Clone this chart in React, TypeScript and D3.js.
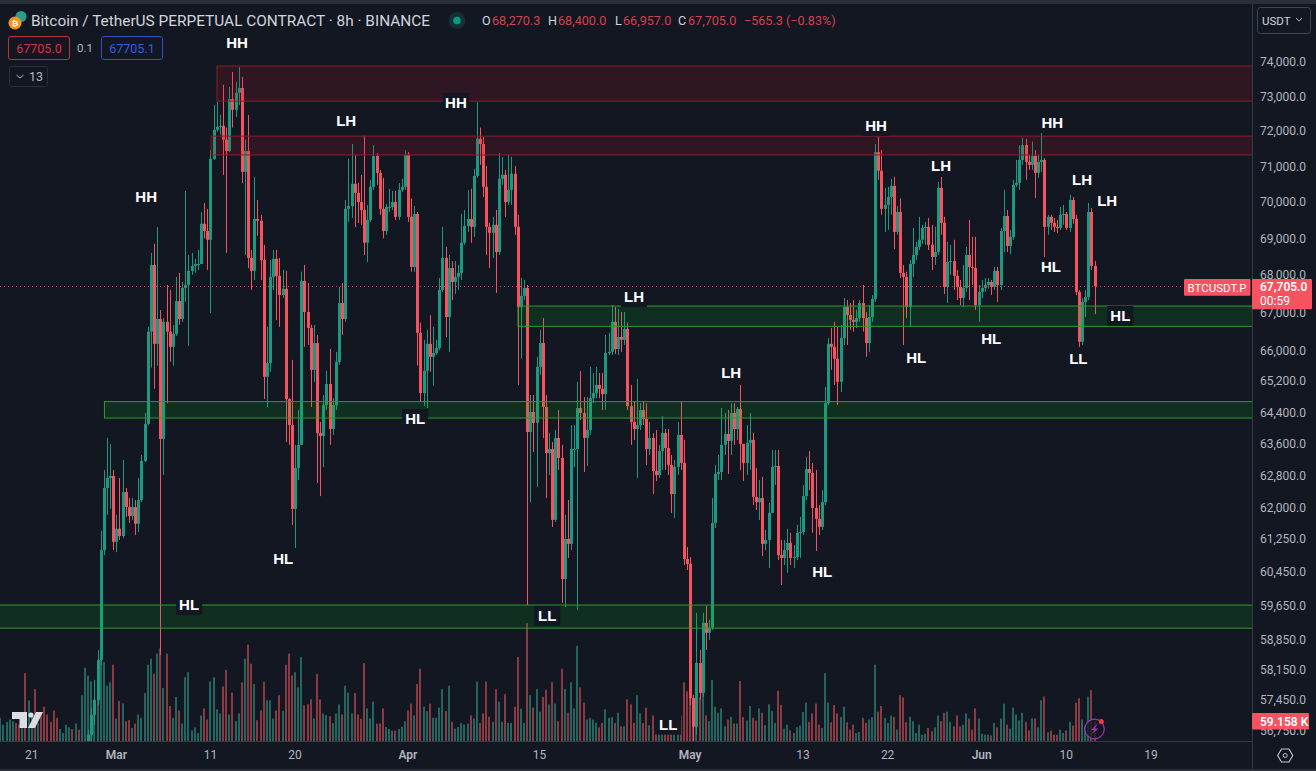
import React, { useEffect, useRef } from 'react';
import * as d3 from 'd3';

const width = 1316;
const height = 771;
const plotRight = 1252.5;
const plotBottom = 741.5;
const topStrip = 4;

// 8h candles, the first one opens at firstOpen and every next one opens at the last close
const firstOpen = 56520;
const closes = [
  56660, 57110, 57450, 58370, 60970, 62490, 62740, 62790, 61170, 61490, 61310, 62390, 62020, 61800, 62020, 61610,
  62194, 63165, 64100, 66490, 68275, 66170, 66825, 63720, 66750, 66490, 66090, 66430, 67300, 66825, 67655, 67735,
  68115, 68250, 68300, 68300, 69400, 69200, 68960, 71210, 72035, 72120, 72150, 71755, 71430, 72920, 72610, 73100,
  73240, 70845, 71430, 68465, 68115, 69530, 69480, 68410, 65310, 65670, 67950, 68440, 67980, 67465, 67630, 64735,
  64070, 61975, 62990, 63570, 67845, 67010, 66590, 65490, 66190, 63870, 63795, 64580, 65125, 63970, 64580, 65700,
  67250, 66825, 69810, 69890, 70510, 70255, 70000, 69780, 68880, 69505, 70425, 71290, 70815, 69810, 69200, 69865,
  69865, 70000, 69590, 70340, 70425, 71320, 69590, 68220, 69670, 66460, 64890, 65465, 66170, 65830, 65930, 66060,
  67600, 68465, 66880, 68190, 67815, 67950, 68060, 68880, 69340, 69530, 69315, 70730, 71780, 71630, 70425, 69315,
  69150, 69370, 68625, 70650, 70760, 70000, 70340, 70790, 69315, 67140, 67440, 67655, 63895, 64405, 64125, 65570,
  66190, 64530, 63365, 63465, 61705, 63745, 63240, 60275, 61240, 61120, 63465, 63465, 64505, 64380, 63745, 63945,
  64760, 64890, 65100, 65000, 64865, 65930, 65960, 66750, 66035, 66350, 66275, 66565, 64555, 64150, 63970, 64070,
  64455, 64225, 63465, 63745, 62915, 62815, 63415, 63870, 63490, 63065, 62340, 63015, 63820, 63115, 60755, 60635,
  57495, 56840, 58300, 57610, 59235, 59000, 59120, 61630, 62840, 62890, 63570, 63845, 63670, 64380, 63970, 64480,
  63595, 63115, 63620, 63695, 62270, 62140, 62240, 61120, 61215, 61875, 63015, 63040, 60850, 60780, 60970, 61145,
  60780, 60800, 61390, 61410, 62290, 62965, 62865, 62000, 61730, 61535, 62140, 64630, 66170, 66090, 65780, 65180,
  66325, 67145, 66930, 66800, 66750, 66850, 67250, 66850, 66190, 66880, 67360, 71400, 70875, 69810, 69920, 70140,
  70450, 69175, 69725, 68060, 67950, 67145, 68300, 68545, 68765, 68960, 69285, 69315, 68820, 68490, 68625, 70395,
  69425, 67680, 68355, 68380, 67980, 67680, 67385, 67655, 68545, 68220, 68190, 67195, 67550, 67655, 67735, 67815,
  67680, 68115, 67735, 69200, 69615, 68790, 69040, 70480, 70535, 71180, 71600, 71125, 71040, 71290, 70815, 71125,
  71180, 69315, 69590, 69425, 69315, 69285, 69645, 69670, 69285, 70057, 69530, 67550, 66225, 67280, 67410, 69725,
  68250, 67705,
];
const highs = [
  56770, 57270, 57910, 58600, 61440, 62940, 63750, 63590, 62940, 61830, 62740, 63190, 62490, 62240, 62240, 62194,
  62740, 63315, 64380, 66620, 68600, 68850, 69310, 67065, 66850, 67735, 67600, 66670, 67950, 68060, 67815, 70310,
  68545, 68600, 68440, 68680, 69725, 69975, 69810, 71460, 72750, 72835, 72465, 73330, 72100, 73270, 73710, 73420,
  73850, 73560, 71755, 72465, 68680, 70700, 70057, 69645, 68820, 66620, 68410, 68680, 68680, 68465, 68140, 68115,
  64760, 65750, 63570, 64455, 68090, 68275, 67790, 66670, 66670, 66405, 64150, 64840, 65465, 66035, 64760, 65960,
  67680, 67790, 70057, 71210, 71630, 71320, 70530, 70760, 71870, 69920, 70620, 71600, 71375, 70900, 70675, 69950,
  70370, 70310, 70310, 70530, 70650, 71460, 71400, 70100, 69890, 69725, 66730, 66275, 66540, 66930, 66620, 66275,
  67920, 69315, 68765, 68545, 68380, 68380, 68275, 69675, 69780, 70340, 70370, 70930, 72835, 72100, 71840, 71010,
  69425, 69590, 69780, 71375, 71265, 70900, 71320, 71265, 71010, 69645, 67920, 67870, 67735, 64840, 64840, 65830,
  66540, 66850, 64840, 63870, 63645, 63945, 64455, 63570, 61830, 62194, 64070, 64070, 65180, 65465, 64785, 64785,
  65570, 65410, 65570, 65410, 65410, 66405, 66460, 67195, 67145, 67090, 67010, 67010, 66730, 65100, 64660, 65255,
  64630, 64660, 64630, 64150, 63870, 63945, 63570, 64300, 63970, 63970, 63315, 63190, 64150, 64660, 63695, 61045,
  60800, 57565, 59470, 58600, 59470, 59630, 59305, 62240, 63065, 63315, 64505, 64380, 64455, 64630, 64630, 64530,
  65100, 63570, 64070, 64380, 63870, 62990, 62690, 62765, 61460, 62120, 63440, 63440, 63440, 61215, 61215, 61485,
  61390, 61095, 61585, 61780, 62565, 63265, 63415, 63115, 62940, 62070, 62440, 65050, 66325, 66590, 66750, 66620,
  66670, 67385, 67330, 67250, 67330, 67065, 67330, 67735, 67010, 67195, 67465, 71630, 71840, 71460, 70395, 70425,
  70650, 70705, 69890, 70100, 68275, 68090, 68410, 69285, 68905, 69590, 69370, 69450, 69560, 69370, 69315, 70565,
  70700, 69590, 68905, 68820, 68960, 68140, 67870, 68275, 68765, 69505, 69040, 69040, 67735, 67870, 67920, 67920,
  67870, 68220, 68220, 69285, 70340, 69780, 69230, 70620, 71180, 71600, 71810, 71780, 71320, 71700, 71460, 71320,
  71950, 71235, 69645, 69645, 69560, 69505, 69865, 69920, 69725, 70200, 70140, 69645, 67600, 67385, 67600, 69975,
  69835, 68380,
];
const lows = [
  56500, 56520, 56880, 57330, 58250, 60850, 61830, 61980, 60970, 60920, 61215, 61260, 61780, 61630, 61705, 61340,
  61410, 62140, 63140, 64070, 65550, 65000, 65600, 58480, 62815, 64630, 65700, 65600, 66380, 66670, 66750, 67280,
  66115, 68005, 68060, 68140, 68300, 69000, 68140, 66985, 71180, 71980, 71895, 70760, 68600, 71400, 72100, 72400,
  72750, 70530, 68545, 68190, 67600, 67870, 69070, 67870, 64735, 64530, 65440, 67600, 66800, 66620, 67385, 63640,
  63570, 61580, 61020, 62690, 63570, 66090, 66140, 64530, 65180, 62615, 62290, 63010, 64455, 63570, 63820, 64455,
  65620, 66405, 66750, 69450, 69560, 69310, 69420, 69370, 68545, 68350, 69450, 70340, 70480, 69645, 69000, 69095,
  69725, 69780, 69505, 69505, 70285, 70340, 69450, 68090, 68090, 65600, 64660, 64560, 64505, 65440, 65075, 65880,
  66008, 67550, 66350, 65960, 67330, 67490, 67600, 67870, 68820, 69175, 68880, 69040, 70675, 71040, 70140, 68545,
  68190, 68465, 67520, 68545, 70480, 69590, 69920, 69920, 69095, 65100, 65780, 67330, 59655, 62140, 63390, 62515,
  65360, 63745, 62240, 62815, 61535, 61655, 62940, 59705, 59610, 60780, 60970, 63010, 59540, 64200, 62890, 63040,
  63820, 64630, 64760, 64760, 64455, 64455, 65880, 65880, 65905, 65880, 65960, 66140, 64455, 63570, 63695, 62740,
  63945, 64070, 63065, 63315, 62340, 62665, 62740, 62940, 62940, 62815, 61875, 61755, 62815, 62940, 60610, 60490,
  57335, 56500, 56660, 57450, 57520, 58600, 58835, 59070, 61510, 62690, 62690, 63315, 62840, 63315, 63570, 63695,
  62940, 62665, 62815, 62940, 62070, 61950, 61705, 60825, 60970, 60540, 62070, 62565, 60730, 60130, 60610, 60420,
  60610, 60540, 60730, 60780, 61340, 62194, 62440, 61390, 60950, 61340, 61460, 62070, 64580, 65490, 65100, 64580,
  64920, 66140, 66140, 66540, 66490, 66590, 66750, 66490, 65830, 65960, 66750, 67280, 70620, 69645, 69175, 69230,
  69645, 68710, 69095, 67920, 66140, 66850, 66620, 67950, 68410, 68680, 68850, 68820, 68680, 68140, 68275, 68545,
  69095, 67490, 67250, 68005, 67600, 67330, 67195, 67145, 67550, 67330, 67735, 67065, 66750, 67385, 67550, 67630,
  67465, 67600, 67280, 67600, 68625, 68625, 68570, 68960, 70425, 70340, 71040, 70620, 70900, 70900, 70115, 70675,
  70845, 68465, 69095, 69230, 69175, 69150, 69230, 69370, 69230, 69175, 69400, 67465, 66090, 66140, 66880, 67330,
  68140, 66957,
];

// volume in thousands, the last 322 belong to the candles above
const volumes = [
  70, 50, 58, 65, 60, 55, 50, 45, 202, 122, 75, 155, 55, 85, 103, 80, 58, 92, 70, 37, 25, 50, 42, 37, 53, 35, 137, 218,
  195, 178, 125, 235, 255, 235, 165, 175, 227, 68, 120, 113, 60, 63, 40, 53, 80, 70, 143, 227, 245, 200, 260, 275, 158,
  260, 105, 70, 132, 92, 53, 190, 205, 33, 42, 25, 77, 98, 65, 178, 190, 95, 83, 163, 212, 80, 145, 60, 83, 175, 245,
  287, 230, 170, 63, 92, 177, 122, 122, 68, 92, 137, 90, 227, 260, 195, 205, 160, 250, 107, 110, 125, 68, 200, 125, 83,
  78, 75, 55, 83, 110, 80, 165, 145, 83, 143, 80, 67, 232, 98, 68, 118, 53, 53, 98, 43, 37, 32, 32, 37, 43, 60, 92, 112,
  77, 170, 215, 103, 90, 112, 70, 70, 100, 155, 90, 165, 58, 38, 43, 55, 50, 53, 77, 68, 177, 55, 83, 177, 73, 58, 155,
  118, 58, 140, 55, 55, 103, 250, 97, 55, 350, 137, 100, 155, 88, 132, 153, 110, 175, 112, 60, 215, 155, 85, 175, 98,
  283, 160, 115, 65, 70, 65, 55, 42, 55, 95, 70, 72, 55, 85, 45, 45, 125, 110, 55, 137, 83, 55, 100, 48, 77, 30, 40, 45,
  50, 42, 55, 38, 60, 77, 175, 148, 135, 125, 160, 130, 145, 77, 60, 182, 103, 85, 98, 45, 65, 73, 53, 53, 179, 72, 62,
  105, 70, 62, 98, 85, 48, 110, 90, 55, 150, 108, 38, 50, 33, 25, 42, 47, 87, 115, 58, 83, 112, 50, 40, 202, 115, 57,
  108, 83, 72, 103, 57, 35, 50, 25, 28, 70, 55, 65, 72, 227, 88, 105, 70, 55, 77, 73, 35, 137, 130, 57, 73, 60, 25, 50,
  20, 23, 40, 30, 42, 77, 60, 85, 88, 58, 45, 77, 45, 50, 83, 68, 35, 98, 68, 23, 20, 20, 18, 55, 42, 68, 112, 50, 38,
  100, 80, 62, 85, 58, 33, 68, 68, 42, 122, 133, 27, 32, 20, 20, 35, 25, 33, 58, 47, 115, 128, 65, 45, 133, 152, 59,
];
// direction of the bars that are older than the first candle on screen
const earlyVolumeUp = [1, 1, 1, 1, 1, 0, 0, 1, 0, 1, 1, 0, 1, 0, 0, 0, 0, 0, 0, 1, 1, 1, 1, 0, 1, 0, 1, 1];

const priceTicks = [
  74000, 73000, 72000, 71000, 70000, 69000, 68000, 67000, 66000, 65200, 64400, 63600, 62800, 62000, 61250, 60450,
  59650, 58850, 58150, 57450, 56750,
];
const timeTicks: [string, string, boolean][] = [
  ['2024-02-21', '21', false],
  ['2024-03-01', 'Mar', true],
  ['2024-03-11', '11', false],
  ['2024-03-20', '20', false],
  ['2024-04-01', 'Apr', true],
  ['2024-04-15', '15', false],
  ['2024-05-01', 'May', true],
  ['2024-05-13', '13', false],
  ['2024-05-22', '22', false],
  ['2024-06-01', 'Jun', true],
  ['2024-06-10', '10', false],
  ['2024-06-19', '19', false],
];

const zoneTops = [73880, 71855, 67170, 64670, 59655];
const zoneBottoms = [72860, 71320, 66630, 64250, 59110];
const zoneStarts = [69.1, 67.2, 165.1, 33.2, -1];
const zoneKinds = ['red', 'red', 'green', 'green', 'green'];

const labelTexts = [
  'HH', 'LH', 'HH', 'HH', 'HH', 'LH', 'HH', 'LH', 'LH', 'LH', 'LH',
  'HL', 'HL', 'HL', 'LL', 'HL', 'HL', 'HL', 'HL', 'HL', 'LL', 'LL',
];
const labelBars = [
  75.5, 110.3, 145.3, 46.5, 279.3, 300, 335.5, 345, 353, 202.1, 233.1,
  335.1, 292.1, 316, 343.8, 357.2, 132.3, 90.2, 262.1, 60.2, 174.4, 213,
];
const labelPrices = [
  74560, 72290, 72810, 70140, 72150, 71010, 72235, 70620, 70030, 67410, 65410,
  68220, 65800, 66300, 65775, 66905, 64225, 60755, 60440, 59655, 59400, 56890,
];

const lastPrice = 67705;
const bg = '#131722';
const upColor = '#1b9a82';
const downColor = '#f7525f';
const upVolume = '#22665f';
const downVolume = '#8a3a42';
const gridLine = '#363a45';
const axisText = '#b2b5be';
const uiFont = 'Roboto, "Liberation Sans", sans-serif';

const drawChart = (root: SVGSVGElement) => {
  const svg = d3.select(root);
  svg.selectAll('*').remove();

  const x = d3.scaleLinear().domain([0, volumes.length - 1]).range([0.35, 1094.6]);
  const y = d3.scaleLog().domain([74000, 56320]).range([62, 750]);
  const time = d3
    .scaleUtc()
    .domain([new Date('2024-02-21'), new Date('2024-06-19')])
    .range([31.7, 1151]);
  const volumeHeight = d3.scaleLinear().domain([0, 59.158]).range([0, 20]);

  svg.append('rect').attr('width', width).attr('height', height).attr('fill', bg);
  svg.append('rect').attr('width', width).attr('height', topStrip).attr('fill', '#2a2e39');
  svg.append('rect').attr('y', height - 2).attr('width', width).attr('height', 2).attr('fill', '#2a2e39');

  const defs = svg.append('defs');
  defs
    .append('clipPath')
    .attr('id', 'plot-clip')
    .append('rect')
    .attr('y', topStrip)
    .attr('width', plotRight)
    .attr('height', plotBottom - topStrip);

  const plot = svg.append('g').attr('clip-path', 'url(#plot-clip)');
  const offset = volumes.length - closes.length;
  const opens = closes.map((_, i) => (i === 0 ? firstOpen : closes[i - 1]));

  const isUp = (j: number) => {
    if (j < offset) return earlyVolumeUp[j] === 1;
    return closes[j - offset] >= opens[j - offset];
  };

  plot
    .append('g')
    .selectAll('rect')
    .data(volumes)
    .join('rect')
    .attr('x', (_, j) => Math.round(x(j)) - 1)
    .attr('y', (d) => plotBottom - volumeHeight(d))
    .attr('width', 2)
    .attr('height', (d) => volumeHeight(d))
    .attr('fill', (_, j) => (isUp(j) ? upVolume : downVolume));

  const candles = plot
    .append('g')
    .selectAll('g')
    .data(closes)
    .join('g')
    .attr('fill', (_, i) => (isUp(i + offset) ? upColor : downColor));
  candles
    .append('rect')
    .attr('x', (_, i) => Math.round(x(i + offset)))
    .attr('y', (_, i) => y(highs[i]))
    .attr('width', 1)
    .attr('height', (_, i) => y(lows[i]) - y(highs[i]));
  candles
    .append('rect')
    .attr('x', (_, i) => Math.round(x(i + offset)) - 1)
    .attr('y', (d, i) => Math.min(y(d), y(opens[i])))
    .attr('width', 3)
    .attr('height', (d, i) => Math.max(1, Math.abs(y(d) - y(opens[i]))));

  // last price line
  plot
    .append('line')
    .attr('x1', 0)
    .attr('x2', plotRight)
    .attr('y1', Math.round(y(lastPrice)) + 0.5)
    .attr('y2', Math.round(y(lastPrice)) + 0.5)
    .attr('stroke', downColor)
    .attr('stroke-opacity', 0.8)
    .attr('stroke-width', 1)
    .attr('stroke-dasharray', '1 3');

  // zones sit over the candles
  plot
    .append('g')
    .selectAll('rect')
    .data(zoneTops)
    .join('rect')
    .attr('x', (_, i) => x(zoneStarts[i]))
    .attr('y', (d) => y(d))
    .attr('width', (_, i) => plotRight + 5 - x(zoneStarts[i]))
    .attr('height', (d, i) => y(zoneBottoms[i]) - y(d))
    .attr('fill', (_, i) => (zoneKinds[i] === 'red' ? 'rgba(200,30,40,0.15)' : 'rgba(10,200,20,0.14)'))
    .attr('stroke', (_, i) => (zoneKinds[i] === 'red' ? '#8f1c25' : '#2c9c2c'))
    .attr('stroke-width', 1);

  // axis frame
  svg
    .append('line')
    .attr('x1', plotRight)
    .attr('x2', plotRight)
    .attr('y1', topStrip)
    .attr('y2', height - 2)
    .attr('stroke', gridLine);
  svg
    .append('line')
    .attr('x1', 0)
    .attr('x2', plotRight)
    .attr('y1', plotBottom)
    .attr('y2', plotBottom)
    .attr('stroke', gridLine);

  // HH / LH / HL / LL labels
  const labels = svg.append('g').selectAll('g').data(labelTexts).join('g');
  labels
    .attr('transform', (_, i) => `translate(${x(labelBars[i])},${y(labelPrices[i])})`);
  labels
    .append('rect')
    .attr('x', -13)
    .attr('y', -10)
    .attr('width', 26)
    .attr('height', 20)
    .attr('fill', bg);
  labels
    .append('text')
    .attr('text-anchor', 'middle')
    .attr('dy', '0.36em')
    .attr('font-family', '"Liberation Sans", Arial, sans-serif')
    .attr('font-weight', 700)
    .attr('font-size', 15)
    .attr('fill', '#ffffff')
    .text((d) => d);

  // price axis
  const priceAxis = svg
    .append('g')
    .attr('transform', `translate(1260,0)`)
    .call(
      d3
        .axisRight(y)
        .tickValues(priceTicks)
        .tickSize(0)
        .tickPadding(0)
        .tickFormat((d) => d3.format(',.1f')(d as number)),
    );
  priceAxis.select('.domain').remove();
  priceAxis
    .selectAll('text')
    .attr('font-family', uiFont)
    .attr('font-size', 12)
    .attr('fill', axisText);

  // time axis
  const timeAxis = svg.append('g').attr('font-family', uiFont).attr('font-size', 12);
  timeAxis
    .selectAll('text')
    .data(timeTicks)
    .join('text')
    .attr('x', (d) => time(new Date(d[0])))
    .attr('y', 759)
    .attr('text-anchor', 'middle')
    .attr('fill', axisText)
    .attr('font-weight', (d) => (d[2] ? 600 : 400))
    .text((d) => d[1]);

  // price tags
  svg.append('rect').attr('x', 1184).attr('y', 279).attr('width', 66.5).attr('height', 16.7).attr('rx', 1).attr('fill', downColor);
  svg.append('text').attr('x', 1217).attr('y', 292).attr('text-anchor', 'middle').attr('font-family', uiFont).attr('font-size', 11.5).attr('fill', '#fff').text('BTCUSDT.P');
  svg.append('rect').attr('x', 1252).attr('y', 279).attr('width', 60).attr('height', 30.3).attr('rx', 1).attr('fill', downColor);
  svg.append('text').attr('x', 1260).attr('y', 291).attr('font-family', uiFont).attr('font-size', 12).attr('font-weight', 600).attr('fill', '#fff').text(d3.format(',.1f')(lastPrice));
  svg.append('text').attr('x', 1260).attr('y', 305).attr('font-family', uiFont).attr('font-size', 12).attr('fill', '#fff').text('00:59');
  svg.append('rect').attr('x', 1252).attr('y', 713).attr('width', 57).attr('height', 16.5).attr('rx', 1).attr('fill', downColor);
  svg.append('text').attr('x', 1260).attr('y', 725.5).attr('font-family', uiFont).attr('font-size', 12).attr('font-weight', 600).attr('fill', '#fff').text('59.158 K');

  // header
  svg.append('circle').attr('cx', 21).attr('cy', 16.5).attr('r', 5.5).attr('fill', '#2a9d8f');
  svg.append('circle').attr('cx', 15).attr('cy', 23).attr('r', 6.5).attr('fill', '#f7931a');
  svg.append('text').attr('x', 15).attr('y', 26).attr('text-anchor', 'middle').attr('font-family', uiFont).attr('font-size', 8).attr('font-weight', 700).attr('fill', '#fff').text('₿');
  svg.append('text').attr('x', 31).attr('y', 26).attr('font-family', uiFont).attr('font-size', 15.4).attr('fill', '#d1d4dc').text('Bitcoin / TetherUS PERPETUAL CONTRACT · 8h · BINANCE');
  svg.append('circle').attr('cx', 457).attr('cy', 20.5).attr('r', 8.5).attr('fill', 'rgba(8,153,129,0.2)');
  svg.append('circle').attr('cx', 457).attr('cy', 20.5).attr('r', 3.8).attr('fill', '#089981');

  const ohlcText = svg.append('g').attr('font-family', uiFont).attr('font-size', 12.6);
  const ohlcParts: [number, string, string][] = [
    [482, 'O', '#d1d4dc'],
    [492, '68,270.3', '#d2424f'],
    [548, 'H', '#d1d4dc'],
    [558, '68,400.0', '#d2424f'],
    [615, 'L', '#d1d4dc'],
    [623, '66,957.0', '#d2424f'],
    [678, 'C', '#d1d4dc'],
    [688, '67,705.0', '#d2424f'],
    [744, '−565.3 (−0.83%)', '#d2424f'],
  ];
  ohlcText
    .selectAll('text')
    .data(ohlcParts)
    .join('text')
    .attr('x', (d) => d[0])
    .attr('y', 25)
    .attr('fill', (d) => d[2])
    .text((d) => d[1]);

  const chip = (bx: number, bw: number, stroke: string, label: string, fill: string) => {
    svg.append('rect').attr('x', bx).attr('y', 36.5).attr('width', bw).attr('height', 23).attr('rx', 2.5).attr('fill', 'none').attr('stroke', stroke);
    svg.append('text').attr('x', bx + bw / 2).attr('y', 52.5).attr('text-anchor', 'middle').attr('font-family', uiFont).attr('font-size', 12.5).attr('fill', fill).text(label);
  };
  chip(8.5, 61, '#b8303c', '67705.0', '#d9323f');
  chip(101.5, 61, '#2a4fc0', '67705.1', '#2f5fe0');
  svg.append('text').attr('x', 85).attr('y', 52).attr('text-anchor', 'middle').attr('font-family', uiFont).attr('font-size', 11.5).attr('fill', '#b2b5be').text('0.1');

  svg.append('rect').attr('x', 9.5).attr('y', 66.5).attr('width', 38).attr('height', 20).attr('rx', 2).attr('fill', 'none').attr('stroke', '#2a2e39');
  svg.append('path').attr('d', 'M16.5 75l3.5 3 3.5-3').attr('fill', 'none').attr('stroke', '#b2b5be').attr('stroke-width', 1);
  svg.append('text').attr('x', 29).attr('y', 81).attr('font-family', uiFont).attr('font-size', 12.5).attr('fill', '#b2b5be').text('13');

  // USDT switch
  svg.append('rect').attr('x', 1257.5).attr('y', 7.5).attr('width', 53).attr('height', 26).attr('rx', 3).attr('fill', 'none').attr('stroke', '#434651');
  svg.append('text').attr('x', 1262).attr('y', 25).attr('font-family', uiFont).attr('font-size', 11.5).attr('fill', '#d1d4dc').text('USDT');
  svg.append('path').attr('d', 'M1296 18l3 3 3-3').attr('fill', 'none').attr('stroke', '#b2b5be');

  // logo, bolt and settings
  svg.append('path').attr('d', 'M12 712h15v16h-7.5v-9H12z M36 712h7l-8 16h-7z').attr('fill', '#dcdde2');
  svg.append('circle').attr('cx', 31).attr('cy', 715).attr('r', 2.6).attr('fill', '#dcdde2');
  svg.append('circle').attr('cx', 1094.5).attr('cy', 729).attr('r', 9.8).attr('fill', bg).attr('fill-opacity', 0.75).attr('stroke', '#9c35b5').attr('stroke-width', 1.2);
  svg.append('path').attr('d', 'M1098 723l-7 7h3.5l-3.5 5 7.5-6.5h-3.5z').attr('fill', '#9c35b5');
  svg.append('circle').attr('cx', 1101.3).attr('cy', 721.5).attr('r', 2.5).attr('fill', '#f23645');
  svg.append('path').attr('d', 'M1281.5 749h7.5l3.8 6.5-3.8 6.5h-7.5l-3.8-6.5z').attr('fill', 'none').attr('stroke', '#c5c8d0').attr('stroke-width', 1.1);
  svg.append('circle').attr('cx', 1285.2).attr('cy', 755.5).attr('r', 2).attr('fill', 'none').attr('stroke', '#c5c8d0');
};

export default function App() {
  const rootEl = useRef<SVGSVGElement>(null);

  useEffect(() => {
    if (rootEl.current) drawChart(rootEl.current);
  }, []);

  return (
    <svg
      ref={rootEl}
      width={width}
      height={height}
      style={{ position: 'absolute', top: 0, left: 0, display: 'block' }}
    />
  );
}
